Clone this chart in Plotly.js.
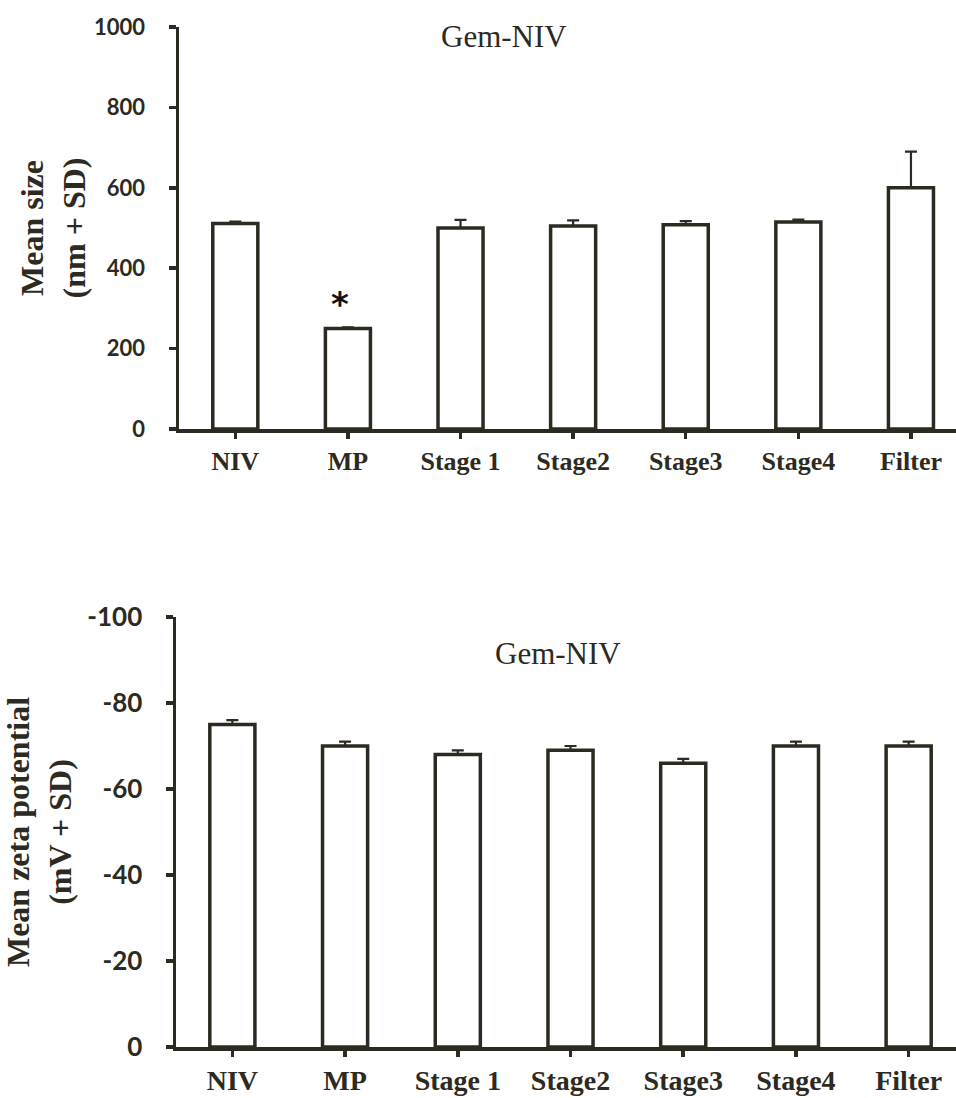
<!DOCTYPE html>
<html>
<head>
<meta charset="utf-8">
<script src="https://cdn.plot.ly/plotly-3.0.1.min.js"></script>
<style>
  html, body { margin: 0; padding: 0; background: #ffffff; }
  #chart { width: 956px; height: 1098px; }
</style>
</head>
<body>
<div id="chart"></div>
<script>
// Gem-NIV formulations through processing stages
const categories = ['NIV', 'MP', 'Stage 1', 'Stage2', 'Stage3', 'Stage4', 'Filter'];

// Mean particle size (nm) and SD
const sizeMean = [511, 250, 500, 505, 508, 515, 600];
const sizeSD = [5, 3, 20, 14, 9, 6, 90];

// Mean zeta potential (mV) and SD
const zetaMean = [-75, -70, -68, -69, -66, -70, -70];
const zetaSD = [1, 1, 1, 1, 1, 1, 1];

const sizeTicks = [0, 200, 400, 600, 800, 1000];
const zetaTicks = [0, -20, -40, -60, -80, -100];

const ink = '#2c2a21';
const zeros = categories.map(() => 0);
const idx = categories.map((_, i) => i);

const barStyle = {
  type: 'bar',
  width: 0.4,
  marker: { color: '#ffffff', line: { color: ink, width: 3.5 } },
  hoverinfo: 'skip',
  showlegend: false
};

const traces = [
  Object.assign({}, barStyle, {
    x: idx, y: sizeMean, xaxis: 'x', yaxis: 'y',
    error_y: { type: 'data', symmetric: false, array: sizeSD, arrayminus: zeros,
               color: ink, thickness: 2.2, width: 6 }
  }),
  Object.assign({}, barStyle, {
    x: idx, y: zetaMean, xaxis: 'x2', yaxis: 'y2',
    error_y: { type: 'data', symmetric: false, array: zeros, arrayminus: zetaSD,
               color: ink, thickness: 2.2, width: 6 }
  })
];

const serifBold = (size) => ({ family: 'Liberation Serif, Times New Roman, serif', size: size, weight: 700, color: ink });
const sansBold = (size) => ({ family: 'Lato, Carlito, sans-serif', size: size, weight: 700, color: ink });

const xCommon = {
  tickmode: 'array', tickvals: idx, ticktext: categories,
  tickson: 'boundaries', ticks: 'outside', ticklen: 6, tickwidth: 3.5, tickcolor: ink,
  showline: true, linewidth: 3.5, linecolor: ink,
  showgrid: false, zeroline: false, fixedrange: true
};
const yCommon = {
  tickmode: 'array',
  ticks: 'outside', ticklen: 7, tickwidth: 3.5, tickcolor: ink,
  showline: true, linewidth: 3.5, linecolor: ink,
  showgrid: false, zeroline: false, fixedrange: true
};

const layout = {
  width: 956, height: 1098,
  margin: { l: 0, r: 0, t: 0, b: 0 },
  paper_bgcolor: '#ffffff', plot_bgcolor: '#ffffff',
  xaxis: Object.assign({}, xCommon, {
    domain: [179 / 956, 1], range: [-0.5, 6.4], anchor: 'y',
    tickfont: serifBold(26), ticklabelstandoff: 0
  }),
  yaxis: Object.assign({}, yCommon, {
    domain: [1 - 429 / 1098, 1 - 27 / 1098], range: [0, 1000], anchor: 'x',
    tickvals: sizeTicks, ticktext: sizeTicks.map(String),
    tickfont: sansBold(22), ticklabelstandoff: 19,
    title: { text: 'Mean size<br>(nm + SD)', font: serifBold(32), standoff: 0 }
  }),
  xaxis2: Object.assign({}, xCommon, {
    domain: [176 / 956, 1], range: [-0.5, 6.42], anchor: 'y2',
    tickfont: serifBold(28), ticklabelstandoff: 0
  }),
  yaxis2: Object.assign({}, yCommon, {
    domain: [1 - 1047 / 1098, 1 - 617 / 1098], range: [0, -100], anchor: 'x2',
    tickvals: zetaTicks, ticktext: zetaTicks.map(String),
    tickfont: sansBold(26), ticklabelstandoff: 18,
    title: { text: 'Mean zeta potential<br>(mV + SD)', font: serifBold(32), standoff: 10 }
  }),
  annotations: [
    { text: 'Gem-NIV', xref: 'paper', yref: 'paper', x: 504 / 956, y: 1 - 36 / 1098,
      xanchor: 'center', yanchor: 'middle', showarrow: false,
      font: { family: 'Liberation Serif, Times New Roman, serif', size: 31, color: ink } },
    { text: 'Gem-NIV', xref: 'paper', yref: 'paper', x: 558 / 956, y: 1 - 653 / 1098,
      xanchor: 'center', yanchor: 'middle', showarrow: false,
      font: { family: 'Liberation Serif, Times New Roman, serif', size: 31, color: ink } },
    { text: '*', xref: 'x', yref: 'y', x: 1, y: 312, xshift: -8,
      xanchor: 'center', yanchor: 'middle', showarrow: false,
      font: { family: 'DejaVu Sans, sans-serif', size: 34, weight: 700, color: '#111111' } }
  ]
};

Plotly.newPlot('chart', traces, layout, { displayModeBar: false, staticPlot: true });
</script>
</body>
</html>
